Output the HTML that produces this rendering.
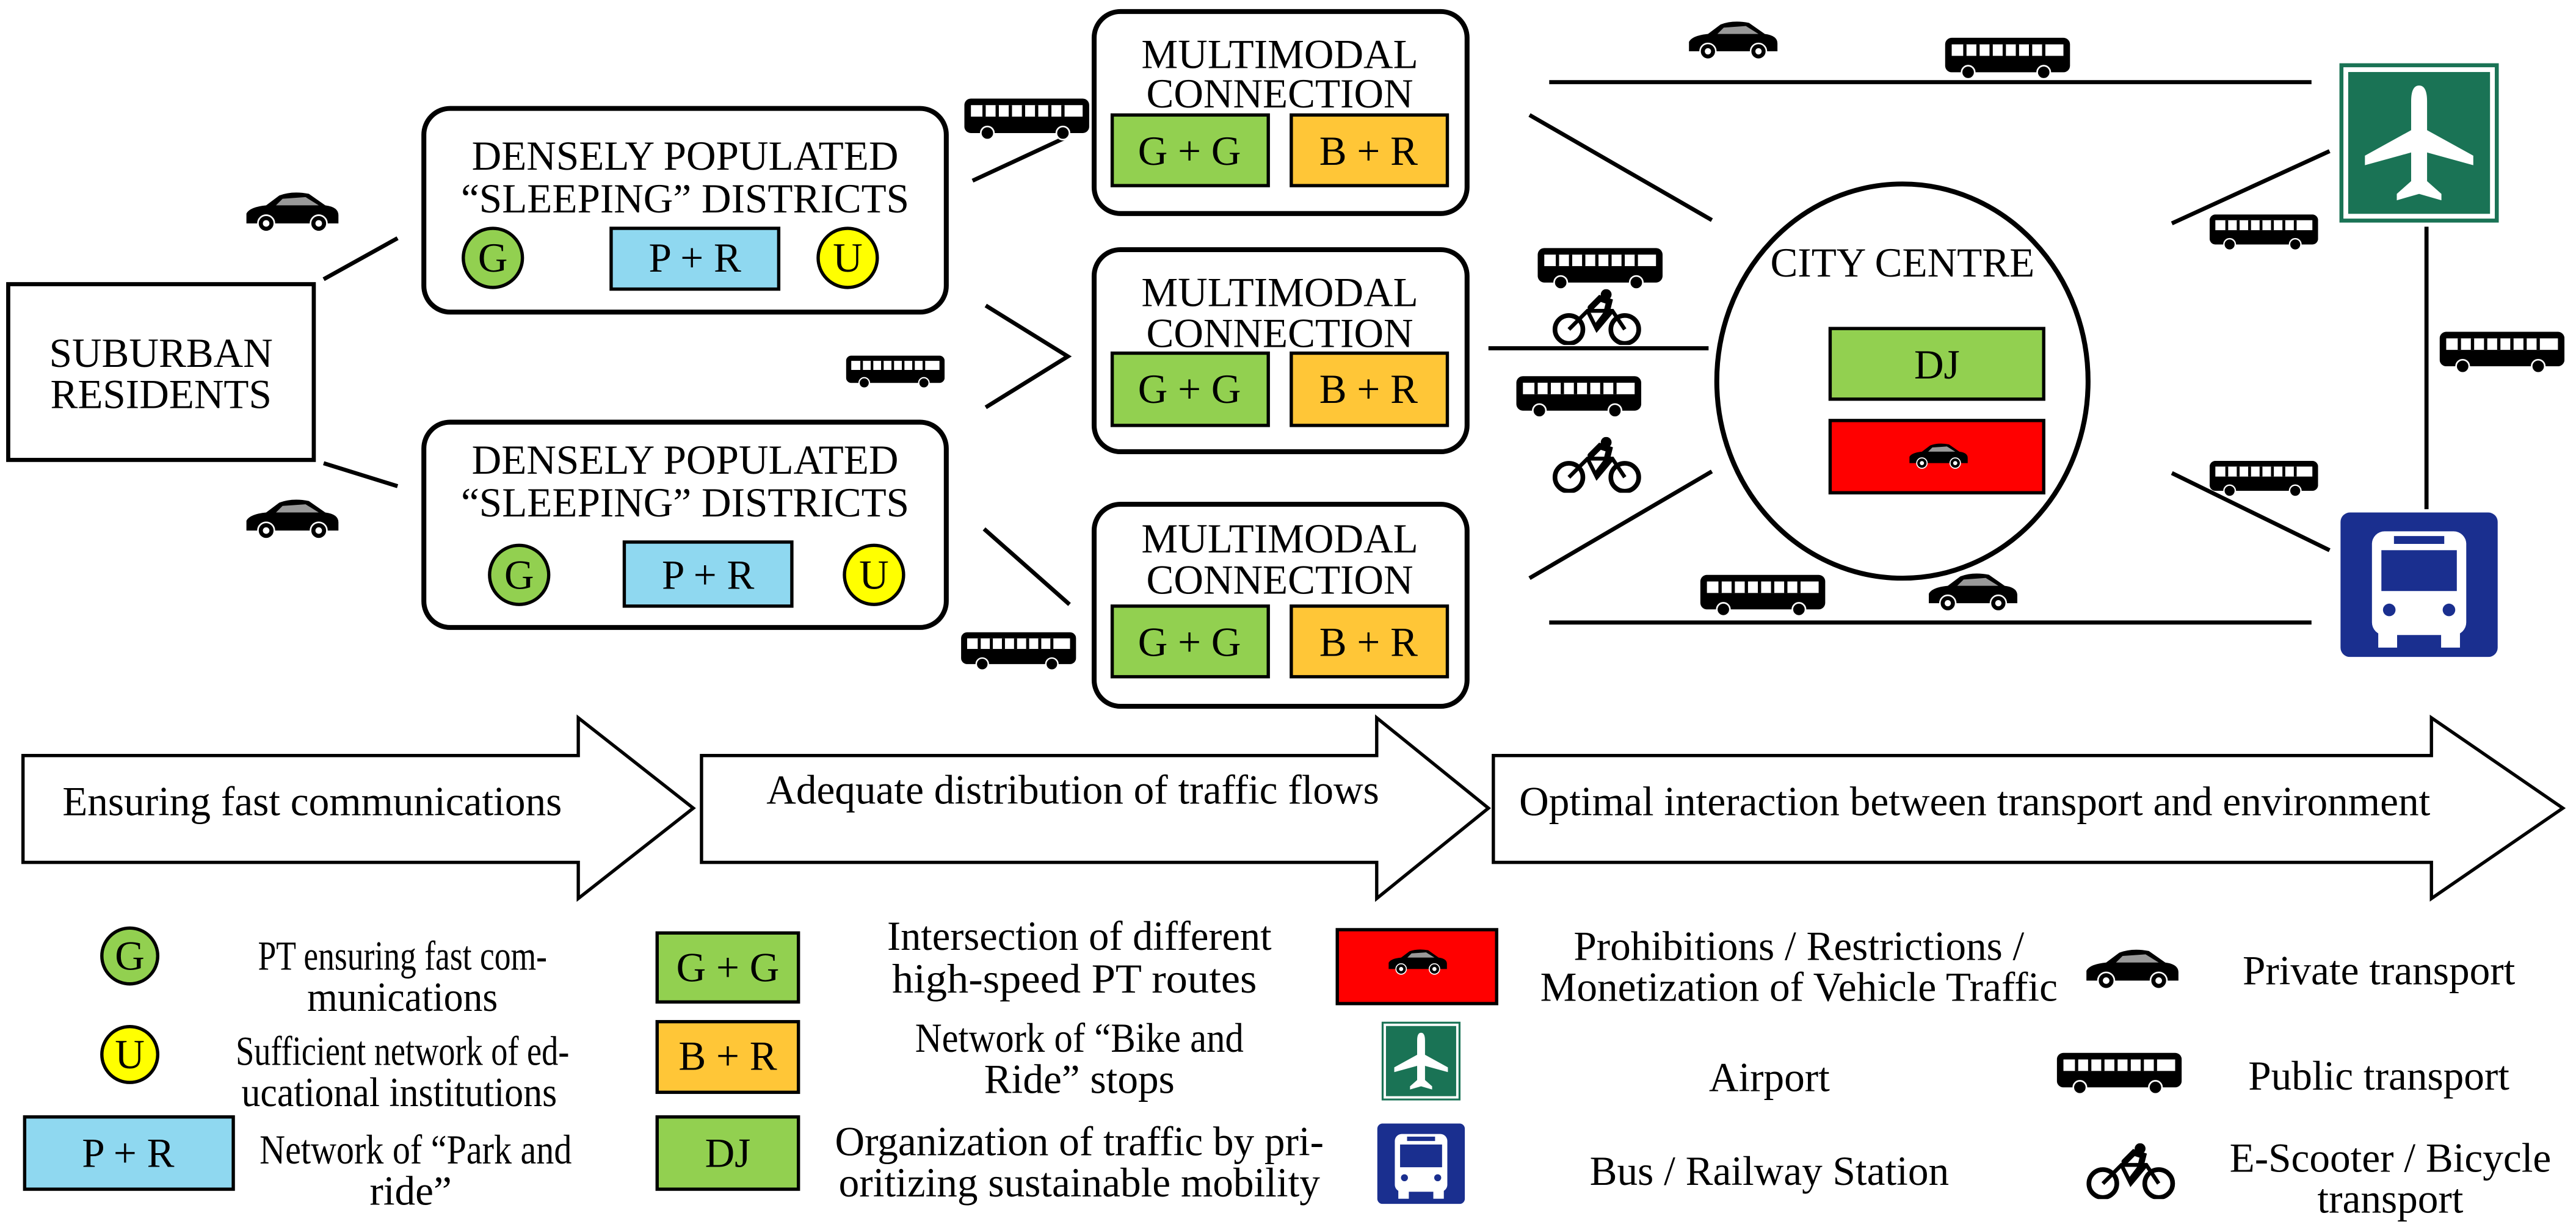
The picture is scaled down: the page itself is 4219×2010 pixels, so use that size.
<!DOCTYPE html>
<html><head><meta charset="utf-8"><style>
html,body{margin:0;padding:0;background:#fff;}
svg{display:block;}
text{font-family:"Liberation Serif",serif;font-size:25px;fill:#000;text-anchor:middle;dominant-baseline:central;}
</style></head><body>
<svg width="4219" height="2010" viewBox="0 0 1568 747" xmlns="http://www.w3.org/2000/svg">
<defs>
<symbol id="car" viewBox="0 0 60 26">
<path d="M2,20 L2,14 Q4,10 14,9 L22,3 Q30,0 40,2 L50,9 Q58,10 58,15 L58,20 Z" fill="#000"/>
<path d="M24,5 L38,4 L46,9 L20,9 Z" fill="#fff" opacity="0.6"/>
<circle cx="14" cy="20" r="5" fill="#000" stroke="#fff" stroke-width="1"/><circle cx="14" cy="20" r="2" fill="#fff"/>
<circle cx="46" cy="20" r="5" fill="#000" stroke="#fff" stroke-width="1"/><circle cx="46" cy="20" r="2" fill="#fff"/>
</symbol>
<symbol id="bus" viewBox="0 0 76 28">
<rect x="0" y="2" width="76" height="21" rx="4" fill="#000"/>
<rect x="4" y="6" width="68" height="7" fill="#fff"/>
<path d="M12,6v7M20,6v7M28,6v7M36,6v7M44,6v7M52,6v7M60,6v7" stroke="#000" stroke-width="2"/>
<circle cx="14" cy="23" r="4" fill="#000" stroke="#fff"/><circle cx="60" cy="23" r="4" fill="#000" stroke="#fff"/>
</symbol>
<symbol id="bike" viewBox="0 0 60 36">
<circle cx="12" cy="26" r="9" fill="none" stroke="#000" stroke-width="3"/>
<circle cx="48" cy="26" r="9" fill="none" stroke="#000" stroke-width="3"/>
<path d="M12,26 L24,14 L40,14 L48,26 M24,14 L30,26 L40,14" fill="none" stroke="#000" stroke-width="2.5"/>
<circle cx="36" cy="3.5" r="3.5" fill="#000"/>
<path d="M26,12 L32,6 L38,8 L36,16 L30,24" fill="none" stroke="#000" stroke-width="4" stroke-linecap="round"/>
</symbol>
<symbol id="plane" viewBox="0 0 100 100">
<rect x="0" y="0" width="100" height="100" fill="#1a7355"/>
<rect x="4" y="4" width="92" height="92" fill="none" stroke="#fff" stroke-width="3"/>
<path d="M50,14 Q55,14 55,24 L55,42 L84,58 L84,64 L55,56 L55,74 L64,82 L64,86 L50,82 L36,86 L36,82 L45,74 L45,56 L16,64 L16,58 L45,42 L45,24 Q45,14 50,14 Z" fill="#fff"/>
</symbol>
<symbol id="busst" viewBox="0 0 100 92">
<rect x="0" y="0" width="100" height="92" rx="6" fill="#1a2f8f"/>
<rect x="20" y="12" width="60" height="66" rx="8" fill="#fff"/>
<rect x="26" y="24" width="48" height="26" fill="#1a2f8f"/>
<rect x="34" y="15" width="32" height="5" fill="#1a2f8f"/>
<circle cx="31" cy="62" r="4" fill="#1a2f8f"/><circle cx="69" cy="62" r="4" fill="#1a2f8f"/>
<rect x="24" y="76" width="12" height="10" fill="#fff"/><rect x="64" y="76" width="12" height="10" fill="#fff"/>
</symbol>
</defs>

<g stroke="#000" stroke-width="3" fill="none">
<rect x="5" y="173" width="186" height="107" stroke-width="2.5"/>
<rect x="258" y="66" width="318" height="124" rx="16"/>
<rect x="258" y="257" width="318" height="125" rx="16"/>
<rect x="666" y="7" width="227" height="123" rx="16"/>
<rect x="666" y="152" width="227" height="123" rx="16"/>
<rect x="666" y="307" width="227" height="123" rx="16"/>
<ellipse cx="1158" cy="232" rx="113" ry="120"/>
<path d="M197,170 L242,145 M197,282 L242,296 M592,110 L648,84 M599,322 L651,368 M600,186 L650,217 L600,248 M931,70 L1042,134 M906,212 L1040,212 M931,352 L1042,287 M943,50 L1407,50 M943,379 L1407,379 M1322,136 L1418,92 M1322,288 L1418,335 M1477,138 L1477,310" stroke-width="2.5"/>
</g>

<text x="98" y="215">SUBURBAN</text><text x="98" y="240">RESIDENTS</text>
<text x="417" y="95">DENSELY POPULATED</text><text x="417" y="121">“SLEEPING” DISTRICTS</text>
<text x="417" y="280">DENSELY POPULATED</text><text x="417" y="306">“SLEEPING” DISTRICTS</text>
<g stroke="#000" stroke-width="2">
<circle cx="300" cy="157" r="18" fill="#92d050"/><rect x="372" y="139" width="102" height="37" fill="#8fd8f0"/><circle cx="516" cy="157" r="18" fill="#ffff00"/>
<circle cx="316" cy="350" r="18" fill="#92d050"/><rect x="380" y="330" width="102" height="39" fill="#8fd8f0"/><circle cx="532" cy="350" r="18" fill="#ffff00"/>
<rect x="677" y="70" width="95" height="43" fill="#92d050"/><rect x="786" y="70" width="95" height="43" fill="#ffc637"/>
<rect x="677" y="215" width="95" height="44" fill="#92d050"/><rect x="786" y="215" width="95" height="44" fill="#ffc637"/>
<rect x="677" y="369" width="95" height="43" fill="#92d050"/><rect x="786" y="369" width="95" height="43" fill="#ffc637"/>
<rect x="1114" y="200" width="130" height="43" fill="#92d050"/><rect x="1114" y="256" width="130" height="44" fill="#ff0000"/>
</g>
<text x="300" y="157">G</text><text x="423" y="157">P + R</text><text x="516" y="157">U</text>
<text x="316" y="350">G</text><text x="431" y="350">P + R</text><text x="532" y="350">U</text>
<text x="779" y="33">MULTIMODAL</text><text x="779" y="57">CONNECTION</text>
<text x="779" y="178">MULTIMODAL</text><text x="779" y="203">CONNECTION</text>
<text x="779" y="328">MULTIMODAL</text><text x="779" y="353">CONNECTION</text>
<text x="724" y="92">G + G</text><text x="833" y="92">B + R</text>
<text x="724" y="237">G + G</text><text x="833" y="237">B + R</text>
<text x="724" y="391">G + G</text><text x="833" y="391">B + R</text>
<text x="1158" y="160">CITY CENTRE</text><text x="1179" y="222">DJ</text>
<use href="#car" x="1161" y="268" width="38" height="19"/>

<use href="#plane" x="1424" y="38" width="97" height="98"/>
<use href="#busst" x="1424" y="312" width="97" height="88"/>

<use href="#car" x="148" y="116" width="60" height="26"/>
<use href="#car" x="148" y="303" width="60" height="26"/>
<use href="#car" x="1026" y="12" width="58" height="25"/>
<use href="#car" x="1172" y="348" width="58" height="25"/>
<use href="#bus" x="587" y="58" width="76" height="28"/>
<use href="#bus" x="515" y="212" width="60" height="28"/>
<use href="#bus" x="585" y="382" width="70" height="28"/>
<use href="#bus" x="1183" y="21" width="78" height="28"/>
<use href="#bus" x="1345" y="128" width="66" height="26"/>
<use href="#bus" x="1485" y="200" width="76" height="28"/>
<use href="#bus" x="1345" y="278" width="66" height="26"/>
<use href="#bus" x="1034" y="348" width="78" height="28"/>
<use href="#bus" x="935" y="149" width="78" height="28"/>
<use href="#bus" x="922" y="227" width="78" height="28"/>
<use href="#bike" x="943" y="176" width="58" height="34"/>
<use href="#bike" x="943" y="266" width="58" height="34"/>

<g fill="#fff" stroke="#000" stroke-width="2">
<path d="M14,460 L352,460 L352,437 L422,492 L352,547 L352,525 L14,525 Z"/>
<path d="M427,460 L838,460 L838,437 L906,492 L838,547 L838,525 L427,525 Z"/>
<path d="M909,460 L1480,460 L1480,437 L1560,492 L1480,547 L1480,525 L909,525 Z"/>
</g>
<text x="190" y="488">Ensuring fast communications</text>
<text x="653" y="481">Adequate distribution of traffic flows</text>
<text x="1202" y="488">Optimal interaction between transport and environment</text>

<g stroke="#000" stroke-width="2">
<circle cx="79" cy="582" r="17" fill="#92d050"/><circle cx="79" cy="642" r="17" fill="#ffff00"/>
<rect x="15" y="680" width="127" height="44" fill="#8fd8f0"/>
<rect x="400" y="568" width="86" height="42" fill="#92d050"/>
<rect x="400" y="622" width="86" height="43" fill="#ffc637"/>
<rect x="400" y="680" width="86" height="44" fill="#92d050"/>
<rect x="814" y="566" width="97" height="45" fill="#ff0000"/>
</g>
<text x="79" y="582">G</text><text x="79" y="642">U</text><text x="78" y="702">P + R</text>
<text x="443" y="589">G + G</text><text x="443" y="643">B + R</text><text x="443" y="702">DJ</text>
<use href="#car" x="844" y="576" width="38" height="19"/>
<use href="#plane" x="834" y="622" width="62" height="48"/>
<use href="#busst" x="834" y="684" width="62" height="49"/>
<text x="245" y="582" textLength="176" lengthAdjust="spacingAndGlyphs">PT ensuring fast com-</text><text x="245" y="607" textLength="116" lengthAdjust="spacingAndGlyphs">munications</text>
<text x="245" y="640" textLength="203" lengthAdjust="spacingAndGlyphs">Sufficient network of ed-</text><text x="243" y="665" textLength="192" lengthAdjust="spacingAndGlyphs">ucational institutions</text>
<text x="253" y="700" textLength="190" lengthAdjust="spacingAndGlyphs">Network of “Park and</text><text x="250" y="725">ride”</text>
<text x="657" y="570" textLength="234" lengthAdjust="spacingAndGlyphs">Intersection of different</text><text x="654" y="596" textLength="222" lengthAdjust="spacingAndGlyphs">high-speed PT routes</text>
<text x="657" y="632" textLength="200" lengthAdjust="spacingAndGlyphs">Network of “Bike and</text><text x="657" y="657">Ride” stops</text>
<text x="657" y="695">Organization of traffic by pri-</text><text x="657" y="720">oritizing sustainable mobility</text>
<text x="1095" y="576">Prohibitions / Restrictions /</text><text x="1095" y="601">Monetization of Vehicle Traffic</text>
<text x="1077" y="656">Airport</text><text x="1077" y="713">Bus / Railway Station</text>
<use href="#car" x="1268" y="577" width="60" height="26"/>
<use href="#bus" x="1252" y="639" width="76" height="28"/>
<use href="#bike" x="1268" y="696" width="58" height="34"/>
<text x="1448" y="591">Private transport</text><text x="1448" y="655">Public transport</text>
<text x="1455" y="705">E-Scooter / Bicycle</text><text x="1455" y="730">transport</text>
</svg>
</body></html>
